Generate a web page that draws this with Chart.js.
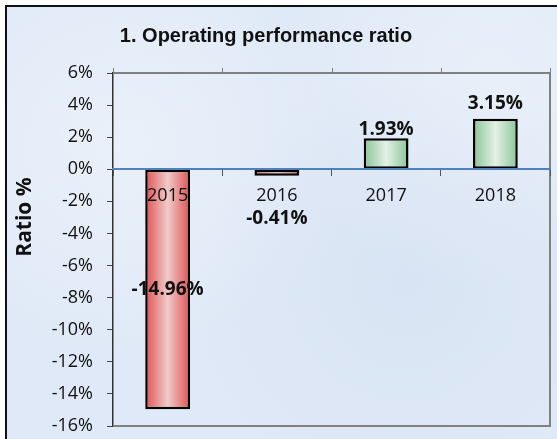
<!DOCTYPE html>
<html>
<head>
<meta charset="utf-8">
<script src="https://cdn.jsdelivr.net/npm/chart.js@4/dist/chart.umd.min.js"></script>
<style>
  html, body { margin: 0; padding: 0; background: #ffffff; width: 557px; height: 439px; overflow: hidden; }
  #frame { position: absolute; left: 5px; top: 5px; width: 570px; height: 460px; border: 2px solid #111;
    background-color: #dfe9f7;
    background-image:
      radial-gradient(circle at 20% 30%, rgba(255,255,255,0.35) 0, rgba(255,255,255,0) 40%),
      radial-gradient(circle at 70% 60%, rgba(205,218,236,0.35) 0, rgba(205,218,236,0) 45%),
      radial-gradient(circle at 85% 15%, rgba(255,255,255,0.3) 0, rgba(255,255,255,0) 35%);
  }
  #wrap { position: absolute; left: 0; top: 0; width: 557px; height: 439px; }
</style>
</head>
<body>
<div id="frame"></div>
<div id="wrap"><canvas id="c" width="557" height="439"></canvas></div>
<script>
const categories = ['2015', '2016', '2017', '2018'];
const ratioValues = [-14.96, -0.41, 1.93, 3.15];
const valueLabels = ['-14.96%', '-0.41%', '1.93%', '3.15%'];
const yTickMin = -16, yTickMax = 6, yTickStep = 2;
const chartTitle = '1. Operating performance ratio';
const yAxisTitle = 'Ratio %';

const FONT = '"Open Sans", "Noto Sans", sans-serif';

function barGradient(chart, i, v) {
  const xs = chart.scales.x;
  if (!xs || !chart.chartArea) return v < 0 ? '#e46a6a' : '#9fd0aa';
  const cx = xs.getPixelForValue(i);
  const half = 22;
  const g = chart.ctx.createLinearGradient(cx - half, 0, cx + half, 0);
  if (v < 0) {
    g.addColorStop(0, '#df5555');
    g.addColorStop(0.5, '#f1caca');
    g.addColorStop(1, '#df5555');
  } else {
    g.addColorStop(0, '#8cc59a');
    g.addColorStop(0.5, '#e2f1e4');
    g.addColorStop(1, '#8cc59a');
  }
  return g;
}

const framePlugin = {
  id: 'framePlugin',
  afterDatasetsDraw(chart) {
    const { ctx, chartArea: a, scales } = chart;
    ctx.save();
    ctx.strokeStyle = '#808080';
    ctx.lineWidth = 2;
    ctx.beginPath();
    ctx.moveTo(a.left, a.top);
    ctx.lineTo(a.right, a.top);
    ctx.lineTo(a.right, a.bottom);
    ctx.lineTo(a.left, a.bottom);
    ctx.stroke();
    ctx.lineWidth = 1;
    const xs = scales.x;
    for (let i = 0; i <= categories.length; i++) {
      const px = Math.round(xs.left + (xs.right - xs.left) * i / categories.length) + 0.5;
      ctx.beginPath();
      ctx.moveTo(px, a.top);
      ctx.lineTo(px, a.top - 5);
      ctx.stroke();
    }
    ctx.restore();
  },
  afterDraw(chart) {
    const { ctx, scales } = chart;
    const xs = scales.x, ys = scales.y;
    ctx.save();
    ctx.fillStyle = '#111';
    ctx.textAlign = 'center';
    ctx.textBaseline = 'middle';
    ctx.font = 'bold 20px "Liberation Sans", Arial, sans-serif';
    ctx.fillText(chartTitle, 266, 36);
    ctx.save();
    ctx.translate(25, 217);
    ctx.rotate(-Math.PI / 2);
    ctx.font = 'bold 21px ' + FONT;
    ctx.fillText(yAxisTitle, 0, 0);
    ctx.restore();
    ctx.font = '18px ' + FONT;
    const zero = ys.getPixelForValue(0);
    categories.forEach((c, i) => {
      ctx.fillText(c, xs.getPixelForValue(i), zero + 27);
    });
    ctx.font = 'bold 19px ' + FONT;
    ratioValues.forEach((v, i) => {
      const cx = xs.getPixelForValue(i);
      const top = ys.getPixelForValue(v);
      let y;
      if (v < -5) y = (top + zero) / 2;
      else if (v < 0) y = top + 43;
      else y = top - (v > 3 ? 15 : 9);
      ctx.fillText(valueLabels[i], cx, y);
    });
    ctx.restore();
  }
};

new Chart(document.getElementById('c'), {
  type: 'bar',
  data: {
    labels: categories,
    datasets: [{
      data: ratioValues,
      backgroundColor: (c) => barGradient(c.chart, c.dataIndex, ratioValues[c.dataIndex]),
      borderColor: '#000',
      borderWidth: 2.5,
      borderSkipped: false,
      barPercentage: 0.41,
      categoryPercentage: 1.0
    }]
  },
  options: {
    responsive: false,
    animation: false,
    devicePixelRatio: 1,
    layout: { padding: { left: 0, right: 7, top: 73, bottom: 13 } },
    plugins: {
      legend: { display: false },
      tooltip: { enabled: false },
      title: { display: false }
    },
    scales: {
      x: {
        position: { y: 0 },
        z: 1,
        offset: true,
        afterFit(s) { s.paddingLeft = 0; s.paddingRight = 0; s.paddingTop = 0; s.paddingBottom = 0; },
        grid: { display: true, drawOnChartArea: false, drawTicks: true, tickLength: 6, color: '#555', offset: true, lineWidth: 1, z: 1 },
        border: { display: true, color: '#4f81bd', width: 2, z: 1 },
        ticks: { display: false }
      },
      y: {
        min: yTickMin,
        max: yTickMax,
        afterFit(s) { s.width = 113; s.paddingTop = 0; s.paddingBottom = 0; },
        ticks: {
          stepSize: yTickStep,
          color: '#111',
          font: { family: FONT, size: 18 },
          padding: 14,
          callback: (v) => v + '%'
        },
        grid: { drawOnChartArea: false, drawTicks: true, tickLength: 6, color: '#444', lineWidth: 1 },
        border: { display: true, color: '#333', width: 1.5 },
        title: { display: false }
      }
    }
  },
  plugins: [framePlugin]
});
</script>
</body>
</html>
